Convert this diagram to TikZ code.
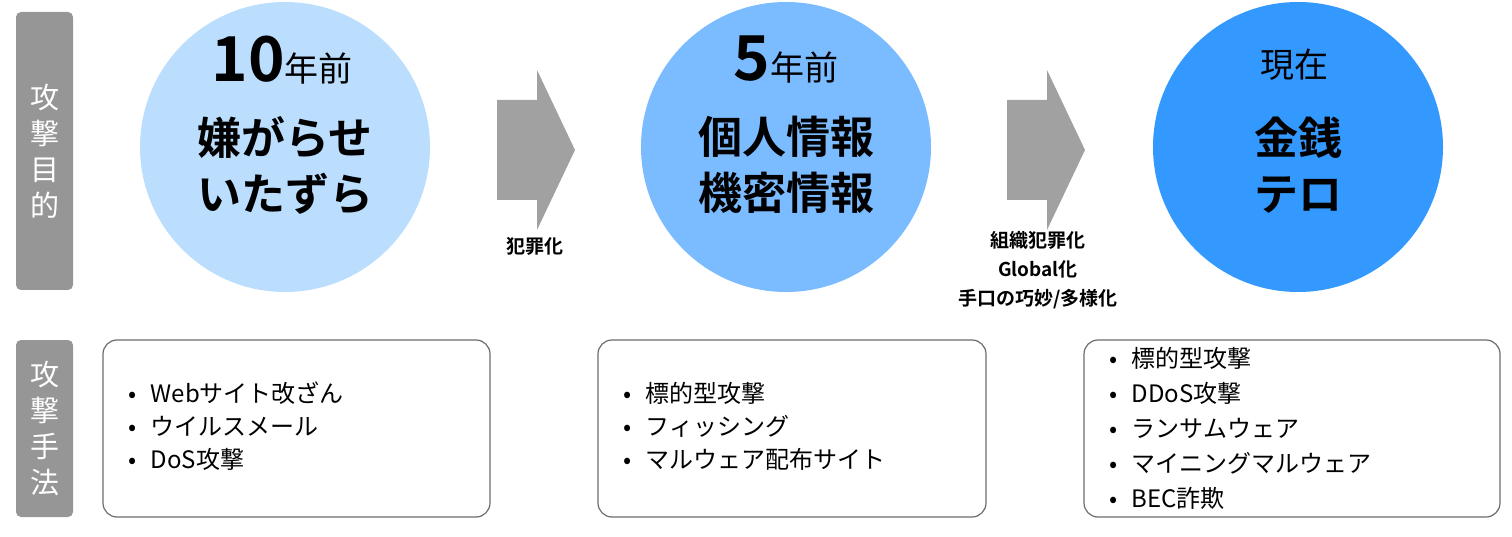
\documentclass[tikz,border=0pt]{standalone}
\usepackage{fontspec}
\setmainfont{Noto Sans CJK JP}
\newfontfamily\jpb[FakeBold=0]{Noto Sans CJK JP Bold}
\begin{document}
\begin{tikzpicture}[x=1pt,y=-1pt,
  side/.style={fill=gray!90!black!75,rounded corners=5pt},
  sidetxt/.style={text=white,font=\fontsize{29}{36}\selectfont,align=center},
  circ/.style={circle,minimum size=290pt,inner sep=0pt},
  chev/.style={fill=gray!95!black!70},
  lbl/.style={font=\jpb\fontsize{19}{29}\selectfont,align=center},
  box/.style={draw=gray!85!black,line width=1.2pt,rounded corners=14pt,fill=white},
  lst/.style={font=\fontsize{24}{33}\selectfont,align=left,anchor=west}]
\useasboundingbox (0,0) rectangle (1512,537);
\fill[side] (16,12) rectangle (73,290);
\node[sidetxt] (s1) at (44.5,151) {攻\\撃\\目\\的};
\fill[side] (16,340) rectangle (73,517);
\node[sidetxt] (s2) at (44.5,428) {攻\\撃\\手\\法};
\node[circ,fill={rgb,255:red,187;green,222;blue,255}] (c1) at (285,147) {};
\node[circ,fill={rgb,255:red,122;green,188;blue,255}] (c2) at (786,147) {};
\node[circ,fill={rgb,255:red,51;green,153;blue,255}] (c3) at (1298,147) {};
\node (t1) at (282,60) {\jpb\fontsize{62}{62}\selectfont 10\fontspec{Noto Sans CJK JP}\fontsize{34}{34}\selectfont 年前};
\node[font=\jpb\fontsize{44}{56}\selectfont,align=center] (m1) at (285,165) {嫌がらせ\\いたずら};
\node (t2) at (786,60) {\jpb\fontsize{62}{62}\selectfont 5\fontspec{Noto Sans CJK JP}\fontsize{34}{34}\selectfont 年前};
\node[font=\jpb\fontsize{44}{56}\selectfont,align=center] (m2) at (786,165) {個人情報\\機密情報};
\node[font=\fontsize{34}{34}\selectfont] (t3) at (1294,65) {現在};
\node[font=\jpb\fontsize{44}{56}\selectfont,align=center] (m3) at (1298,165) {金銭\\テロ};
\fill[chev] (497,100) -- (537,100) -- (537,70) -- (575,150) -- (537,230) -- (537,200) -- (497,200) -- cycle;
\fill[chev] (1007,100) -- (1047,100) -- (1047,70) -- (1085,150) -- (1047,230) -- (1047,200) -- (1007,200) -- cycle;
\node[lbl] (l1) at (535,246) {犯罪化};
\node[lbl] (l2) at (1038,270) {組織犯罪化\\Global化\\手口の巧妙/多様化};
\draw[box] (103,340) rectangle (490,517);
\draw[box] (598,340) rectangle (986,517);
\draw[box] (1084,340) rectangle (1500,517);
\node[lst] (b1) at (125,426) {•\hspace{14pt}Webサイト改ざん\\•\hspace{14pt}ウイルスメール\\•\hspace{14pt}DoS攻撃};
\node[lst] (b2) at (620,426) {•\hspace{14pt}標的型攻撃\\•\hspace{14pt}フィッシング\\•\hspace{14pt}マルウェア配布サイト};
\node[lst,font=\fontsize{24}{35}\selectfont] (b3) at (1106,428) {•\hspace{14pt}標的型攻撃\\•\hspace{14pt}DDoS攻撃\\•\hspace{14pt}ランサムウェア\\•\hspace{14pt}マイニングマルウェア\\•\hspace{14pt}BEC詐欺};
\end{tikzpicture}
\end{document}
